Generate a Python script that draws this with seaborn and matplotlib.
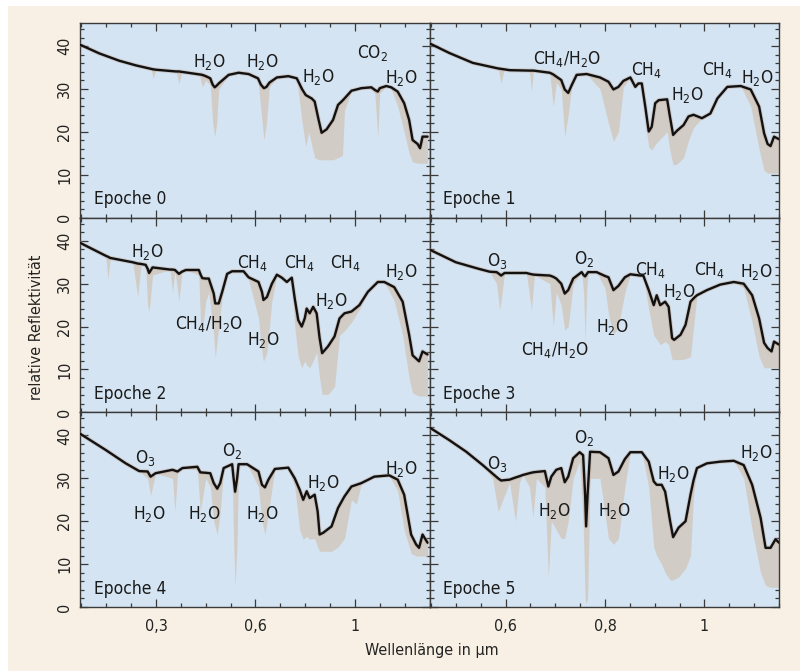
import matplotlib
matplotlib.use("Agg")
import matplotlib.pyplot as plt
import matplotlib.patheffects as pe
from matplotlib import font_manager
from matplotlib.patches import Rectangle
from matplotlib.ticker import FixedLocator, MultipleLocator, FixedFormatter
import seaborn as sns
import pandas as pd

# ---------------- data (wavelength in µm, relative reflectivity) ----------------
wl_0 = [0.446,0.486,0.526,0.560,0.590,0.594,0.600,0.640,0.646,0.652,0.688,0.693,0.700,0.709,0.714,0.718,0.722,0.726,0.746,0.766,0.786,0.805,0.811,0.817,0.822,0.828,0.843,0.866,0.883,0.894,0.901,0.907,0.913,0.919,0.927,0.933,0.943,0.956,0.966,0.975,0.979,0.993,1.013,1.033,1.040,1.046,1.050,1.063,1.073,1.086,1.099,1.109,1.116,1.126,1.131,1.136,1.146]
refl_0 = [40.4,38.3,36.6,35.5,34.7,34.6,34.5,34.1,34.1,34.0,33.4,33.3,33.0,32.5,31.0,30.4,30.8,31.3,33.3,33.8,33.5,32.5,31.0,30.2,30.5,31.5,32.7,33.0,32.5,29.9,28.6,28.2,27.8,27.1,22.8,19.8,20.6,22.8,26.3,27.3,27.8,29.6,30.2,30.4,29.8,29.4,30.2,30.7,30.4,29.4,26.7,22.8,18.1,17.2,16.2,18.9,18.9]
hires_0 = [40.4,38.3,36.6,35.5,34.7,32.5,34.5,34.1,31.3,34.0,33.0,30.5,32.0,31.0,22.0,18.9,22.0,30.0,33.3,33.8,33.5,32.0,25.0,18.1,22.0,30.5,32.7,33.0,32.5,22.0,16.6,20.0,17.0,14.0,13.5,13.5,13.5,13.5,14.0,14.5,25.0,29.6,30.2,30.0,29.0,18.9,29.0,30.7,30.0,26.0,20.0,15.0,13.0,12.7,12.7,12.7,12.7]

wl_1 = [0.448,0.487,0.534,0.585,0.591,0.597,0.608,0.648,0.652,0.656,0.689,0.696,0.702,0.712,0.719,0.726,0.733,0.743,0.763,0.790,0.807,0.817,0.827,0.837,0.851,0.861,0.867,0.874,0.881,0.888,0.894,0.901,0.908,0.925,0.930,0.937,0.945,0.958,0.968,0.978,0.995,1.012,1.026,1.046,1.073,1.093,1.110,1.120,1.127,1.133,1.140,1.150]
refl_1 = [40.6,38.4,36.1,34.8,34.7,34.6,34.4,34.3,34.3,34.3,33.8,33.4,32.9,32.1,29.9,29.1,30.9,33.3,33.5,32.7,31.7,29.9,30.5,31.9,32.7,30.5,31.3,31.3,25.9,20.1,21.2,26.7,27.4,27.6,24.0,19.3,20.3,21.6,23.6,24.0,23.2,24.3,27.8,30.5,30.7,29.9,25.9,19.7,17.2,16.7,18.9,18.3]
hires_1 = [40.6,38.4,36.1,34.8,31.3,34.6,34.4,34.3,29.4,34.3,33.5,25.9,31.5,30.0,18.9,24.0,30.5,33.3,33.5,30.0,22.0,17.8,20.0,30.5,32.7,30.5,31.3,31.3,22.0,16.5,15.8,17.0,18.0,20.0,16.0,12.3,12.5,14.0,18.0,21.0,23.2,24.3,27.8,30.5,30.7,26.0,16.0,11.0,10.4,10.4,10.4,10.4]

wl_2 = [0.446,0.499,0.503,0.508,0.553,0.563,0.570,0.579,0.583,0.586,0.593,0.628,0.633,0.638,0.646,0.652,0.660,0.686,0.690,0.693,0.700,0.706,0.716,0.719,0.726,0.733,0.743,0.753,0.776,0.786,0.806,0.813,0.816,0.823,0.833,0.843,0.853,0.863,0.873,0.879,0.886,0.893,0.899,0.903,0.909,0.916,0.923,0.929,0.934,0.946,0.959,0.969,0.979,0.993,1.009,1.026,1.046,1.059,1.079,1.096,1.109,1.116,1.129,1.136,1.146]
refl_2 = [39.6,36.5,36.3,36.0,35.0,34.7,34.6,34.4,33.5,32.5,33.8,33.3,33.3,33.2,32.3,32.8,33.2,33.2,32.0,31.3,31.2,31.2,27.7,25.4,25.4,28.1,32.3,32.9,32.9,31.5,30.4,28.1,26.2,26.9,30.0,32.1,31.4,30.4,31.4,26.5,21.5,20.0,21.9,24.2,23.1,24.6,23.1,17.3,13.8,15.4,17.7,21.9,23.1,23.5,25.0,28.1,30.4,30.4,29.2,25.8,18.1,13.3,11.9,14.2,13.5]
hires_2 = [39.6,36.5,31.0,36.0,35.0,27.0,34.6,34.0,25.0,23.5,32.0,33.3,28.0,33.0,26.0,32.5,33.2,32.0,19.0,18.8,26.0,28.0,18.0,12.7,20.0,27.0,32.3,32.9,32.9,31.0,22.0,14.0,11.9,14.0,26.0,32.1,31.4,30.4,31.4,20.0,13.0,10.4,12.0,11.0,10.4,12.0,14.0,8.0,4.2,4.2,6.0,18.0,19.0,21.0,24.0,28.1,30.4,30.4,26.0,18.0,8.0,4.5,3.8,3.8,3.8]

wl_3 = [0.448,0.500,0.545,0.568,0.582,0.588,0.591,0.598,0.642,0.652,0.658,0.689,0.696,0.702,0.712,0.719,0.726,0.736,0.753,0.757,0.760,0.763,0.766,0.783,0.800,0.807,0.817,0.827,0.840,0.851,0.871,0.877,0.888,0.898,0.904,0.911,0.921,0.928,0.935,0.939,0.952,0.962,0.972,0.980,0.985,1.005,1.032,1.059,1.079,1.096,1.110,1.120,1.127,1.135,1.140,1.150]
refl_3 = [37.9,35.0,33.5,32.8,32.7,32.2,31.9,32.5,32.5,32.2,32.1,31.9,31.6,31.2,30.0,27.7,28.5,31.2,32.7,32.0,31.7,32.2,32.7,32.7,31.8,31.5,28.5,29.5,31.5,32.2,31.9,31.9,28.5,25.0,27.3,25.0,25.8,24.6,17.3,16.9,18.1,20.4,25.8,26.8,27.3,28.5,29.8,30.4,30.0,27.3,21.9,16.2,15.0,14.2,16.5,15.8]
hires_3 = [37.9,35.0,33.5,32.8,30.0,24.0,26.0,32.5,32.5,23.8,32.0,30.0,20.0,28.0,25.0,19.2,20.0,30.0,32.7,28.0,16.5,28.0,32.7,32.7,29.0,23.0,18.0,20.0,28.0,32.2,31.9,31.9,24.0,18.0,17.0,15.8,16.5,15.8,12.3,12.3,12.3,12.5,13.0,22.0,27.3,28.5,29.8,30.4,29.0,21.0,13.0,10.4,10.4,10.4,10.4,10.4]

wl_4 = [0.446,0.499,0.539,0.566,0.583,0.589,0.599,0.633,0.638,0.643,0.653,0.683,0.689,0.700,0.709,0.716,0.723,0.729,0.736,0.753,0.756,0.759,0.763,0.766,0.783,0.806,0.813,0.819,0.826,0.839,0.866,0.879,0.889,0.896,0.903,0.909,0.919,0.925,0.929,0.936,0.953,0.966,0.979,0.993,1.003,1.013,1.039,1.069,1.086,1.099,1.113,1.123,1.129,1.136,1.146]
refl_4 = [40.5,36.6,33.5,31.7,31.6,30.4,31.2,32.0,31.8,31.6,32.4,32.7,31.4,31.3,31.2,28.9,27.6,28.9,32.4,33.3,30.0,26.9,30.0,33.3,33.3,31.6,28.5,27.9,29.7,32.2,32.5,30.0,27.3,25.0,27.0,25.4,26.2,22.3,16.9,17.3,18.8,23.1,25.8,28.1,28.5,28.9,30.4,30.7,29.7,26.2,16.9,14.6,13.8,16.9,15.0]
hires_4 = [40.5,36.6,33.5,31.7,30.0,26.0,31.2,30.0,22.3,31.0,32.4,32.0,22.3,30.0,28.0,20.0,16.9,22.0,32.4,33.3,15.0,4.9,15.0,33.3,33.3,28.0,20.0,16.9,22.0,32.2,32.5,28.0,18.0,15.8,16.5,15.8,16.0,14.0,13.0,13.0,13.0,14.0,16.0,25.0,24.0,28.9,30.4,30.7,27.0,18.0,12.5,11.9,11.9,11.9,11.9]

wl_5 = [0.448,0.487,0.521,0.554,0.574,0.585,0.591,0.608,0.620,0.628,0.635,0.648,0.655,0.662,0.679,0.686,0.692,0.702,0.712,0.719,0.726,0.736,0.749,0.756,0.760,0.762,0.765,0.770,0.790,0.807,0.817,0.827,0.840,0.851,0.874,0.888,0.898,0.904,0.914,0.921,0.931,0.937,0.948,0.962,0.972,0.978,0.985,1.005,1.032,1.059,1.079,1.096,1.113,1.123,1.133,1.143,1.150]
refl_5 = [41.8,38.9,36.2,33.1,31.1,30.0,29.5,29.7,30.2,30.5,30.8,31.2,31.4,31.5,31.7,28.1,30.4,32.0,32.4,29.1,30.4,34.7,36.1,35.4,26.2,18.8,26.2,36.2,36.1,34.7,30.8,31.6,34.5,36.1,36.1,33.9,29.3,28.5,28.5,26.9,20.0,16.3,18.5,20.0,26.2,29.5,32.4,33.5,33.9,34.1,33.1,28.5,20.8,13.8,13.8,15.8,15.0]
hires_5 = [41.8,38.9,36.2,33.1,30.0,22.3,24.0,29.0,20.0,29.0,30.8,28.0,21.0,30.0,28.0,6.9,20.0,18.0,16.0,16.0,20.0,30.0,34.0,20.0,2.0,0.7,2.0,30.0,30.0,16.0,14.6,16.0,28.0,36.1,36.1,28.0,14.0,12.0,10.0,8.0,6.3,6.3,7.0,9.0,12.0,26.0,32.4,33.5,33.9,34.1,30.0,18.0,8.0,5.0,4.6,4.6,4.6]

epoch_labels = ["Epoche 0", "Epoche 1", "Epoche 2", "Epoche 3", "Epoche 4", "Epoche 5"]

H2O = r"H$_\mathregular{2}$O"
CH4 = r"CH$_\mathregular{4}$"
CH4H2O = r"CH$_\mathregular{4}$/H$_\mathregular{2}$O"
O2 = r"O$_\mathregular{2}$"
O3 = r"O$_\mathregular{3}$"
CO2 = r"CO$_\mathregular{2}$"

ann_text_0 = [H2O, H2O, H2O, CO2, H2O]
ann_x_0 = [0.708, 0.813, 0.926, 1.036, 1.094]
ann_y_0 = [36.4, 36.4, 32.7, 38.3, 32.5]
ann_text_1 = [CH4H2O, CH4, H2O, CH4, H2O]
ann_x_1 = [0.723, 0.884, 0.966, 1.026, 1.106]
ann_y_1 = [36.9, 34.4, 28.6, 34.4, 32.6]
ann_text_2 = [H2O, CH4H2O, CH4, H2O, CH4, CH4, H2O, H2O]
ann_x_2 = [0.583, 0.707, 0.794, 0.816, 0.888, 0.981, 0.953, 1.094]
ann_y_2 = [37.5, 20.5, 34.8, 16.9, 34.8, 34.8, 25.9, 32.7]
ann_text_3 = [O3, O2, CH4, CH4, H2O, H2O, H2O, CH4H2O]
ann_x_3 = [0.583, 0.758, 0.892, 1.010, 1.105, 0.950, 0.815, 0.700]
ann_y_3 = [35.2, 35.8, 33.3, 33.3, 32.7, 28.1, 19.8, 14.6]
ann_text_4 = [O3, O2, H2O, H2O, H2O, H2O, H2O]
ann_x_4 = [0.579, 0.753, 0.587, 0.698, 0.813, 0.936, 1.094]
ann_y_4 = [34.7, 36.4, 21.7, 21.7, 21.7, 29.0, 32.2]
ann_text_5 = [O3, O2, H2O, H2O, H2O, H2O]
ann_x_5 = [0.583, 0.758, 0.698, 0.818, 0.938, 1.105]
ann_y_5 = [33.3, 39.5, 22.5, 22.5, 31.0, 35.8]

x_ticks = [0.6, 0.8, 1.0]
x_ticklabels_left = ["0,3", "0,6", "1"]
x_ticklabels_right = ["0,6", "0,8", "1"]
y_ticks = [0, 10, 20, 30, 40]

# ---------------- style ----------------
sns.set_style("ticks")

# choose a narrow font if one is installed
_fonts = font_manager.fontManager.ttflist
_names = {f.name for f in _fonts}
FONT = "DejaVu Sans"
STRETCH = "normal"
if "Liberation Sans Narrow" in _names:
    FONT = "Liberation Sans Narrow"
elif any(f.name == "DejaVu Sans" and str(f.stretch) in ("condensed", "semi-condensed") for f in _fonts):
    FONT, STRETCH = "DejaVu Sans", "condensed"
elif any(f.name == "Open Sans" and str(f.stretch) in ("condensed", "semi-condensed") for f in _fonts):
    FONT, STRETCH = "Open Sans", "condensed"
plt.rcParams["font.family"] = [FONT, "DejaVu Sans"]
plt.rcParams["font.stretch"] = STRETCH
plt.rcParams["mathtext.fontset"] = "custom"
plt.rcParams["mathtext.rm"] = FONT

BEIGE = "#f8f0e5"
PANEL = "#d4e4f2"
GRAY = "#d2ccc6"
FRAME = "#3a3a3a"

series = [(wl_0, refl_0, hires_0), (wl_1, refl_1, hires_1), (wl_2, refl_2, hires_2),
          (wl_3, refl_3, hires_3), (wl_4, refl_4, hires_4), (wl_5, refl_5, hires_5)]
anns = [(ann_text_0, ann_x_0, ann_y_0), (ann_text_1, ann_x_1, ann_y_1),
        (ann_text_2, ann_x_2, ann_y_2), (ann_text_3, ann_x_3, ann_y_3),
        (ann_text_4, ann_x_4, ann_y_4), (ann_text_5, ann_x_5, ann_y_5)]

fig = plt.figure(figsize=(8, 6.72), dpi=100)
fig.patch.set_facecolor("white")
fig.patches.append(Rectangle((8 / 800, 1 / 672), 792 / 800, 665 / 672,
                             transform=fig.transFigure, facecolor=BEIGE,
                             edgecolor="none", zorder=-10))
axes = fig.subplots(3, 2, gridspec_kw=dict(wspace=0, hspace=0))
fig.subplots_adjust(left=80 / 800, right=779 / 800, top=1 - 23 / 672, bottom=1 - 607 / 672)

for i, ax in enumerate(axes.flat):
    wl, refl, hires = series[i]
    df = pd.DataFrame({"wl": wl, "refl": refl, "hires": hires})
    ax.set_facecolor(PANEL)
    ax.fill_between(df["wl"], df["hires"], df["refl"], color=GRAY, lw=0, zorder=1)
    sns.lineplot(data=df, x="wl", y="refl", ax=ax, color="#111111", lw=1.7,
                 estimator=None, sort=False, zorder=3,
                 path_effects=[pe.withStroke(linewidth=3.0, foreground="#c0a090", alpha=0.45)])
    ax.set_xlim(0.447, 1.15)
    ax.set_ylim(0, 45.4)
    ax.set_xlabel("")
    ax.set_ylabel("")
    ax.xaxis.set_major_locator(FixedLocator(x_ticks))
    ax.xaxis.set_minor_locator(MultipleLocator(0.05))
    ax.yaxis.set_major_locator(FixedLocator(y_ticks))
    ax.yaxis.set_minor_locator(MultipleLocator(2))
    ax.tick_params(which="both", direction="in", top=True, right=True,
                   color=FRAME, width=0.9)
    ax.tick_params(which="major", length=5.5)
    ax.tick_params(which="minor", length=3)
    ax.tick_params(axis="x", pad=8.5, labelsize=11.5, labelcolor="#222222")
    ax.tick_params(axis="y", pad=5.5, labelsize=11.5, labelcolor="#222222", labelrotation=90)
    for sp in ax.spines.values():
        sp.set_color(FRAME)
        sp.set_linewidth(1.0)
    row, col = divmod(i, 2)
    if col == 0:
        ax.xaxis.set_major_formatter(FixedFormatter(x_ticklabels_left))
        for lab in ax.get_yticklabels():
            lab.set_va("center")
    else:
        ax.xaxis.set_major_formatter(FixedFormatter(x_ticklabels_right))
        ax.tick_params(axis="y", labelleft=False)
    if row < 2:
        ax.tick_params(axis="x", labelbottom=False)
    ax.text(0.475, 4.3, epoch_labels[i], ha="left", va="center", fontsize=12.5,
            color="#1a1a1a", zorder=4)
    t, xs, ys = anns[i]
    for s, x, y in zip(t, xs, ys):
        ax.text(x, y, s, ha="center", va="center", fontsize=12.5, color="#1a1a1a", zorder=4)

fig.text(37 / 800, 1 - 327 / 672, "relative Reflektivität", rotation=90,
         ha="center", va="center", fontsize=11.5, color="#222222")
fig.text(432 / 800, 1 - 650 / 672, "Wellenlänge in µm", ha="center", va="center",
         fontsize=11.5, color="#222222")

fig.savefig("out.png", dpi=100, facecolor=fig.get_facecolor())
